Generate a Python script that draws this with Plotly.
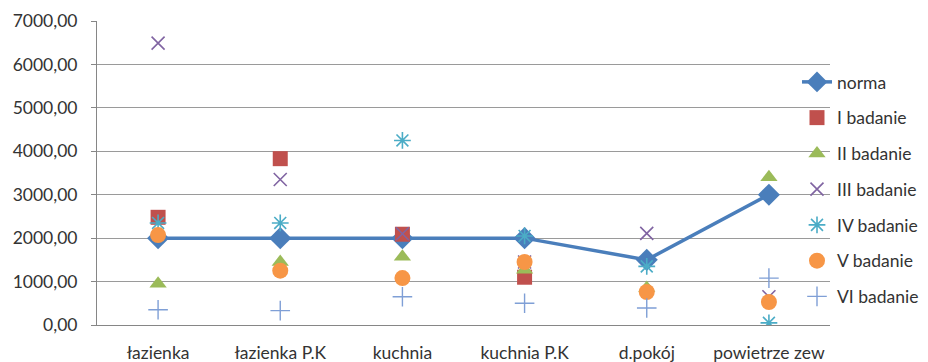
import plotly.graph_objects as go

# Measurement sites
categories = ["łazienka", "łazienka P.K", "kuchnia", "kuchnia P.K", "d.pokój", "powietrze zew"]

# Reference level and the six measurement rounds
norma = [2000, 2000, 2000, 2000, 1500, 3000]
badanie_1 = [2480, 3830, 2090, 1100, None, None]
badanie_2 = [950, 1450, 1570, 1270, 850, 3400]
badanie_3 = [6490, 3350, 2100, 1450, 2110, 650]
badanie_4 = [2350, 2350, 4250, 2050, 1350, 50]
badanie_5 = [2070, 1250, 1080, 1450, 760, 530]
badanie_6 = [350, 330, 650, 500, 390, 1080]

series_names = ["I badanie", "II badanie", "III badanie", "IV badanie", "V badanie", "VI badanie"]
series_values = [badanie_1, badanie_2, badanie_3, badanie_4, badanie_5, badanie_6]

styles = [
    dict(symbol="square", color="#C0504D", size=15, line=dict(width=0)),
    dict(symbol="triangle-up", color="#9BBB59", size=15, line=dict(width=0)),
    dict(symbol="x-thin-open", color="#8064A2", size=13, line=dict(width=1.6, color="#8064A2")),
    dict(symbol="asterisk-open", color="#4BACC6", size=14, line=dict(width=1.6, color="#4BACC6")),
    dict(symbol="circle", color="#F79646", size=16, line=dict(width=0)),
    dict(symbol="cross-thin-open", color="#7F9FD6", size=14, line=dict(width=1.4, color="#7F9FD6")),
]

fig = go.Figure()

fig.add_trace(go.Scatter(
    x=categories, y=norma, name="norma", mode="lines+markers",
    line=dict(color="#4A7EBB", width=3.5),
    marker=dict(symbol="diamond", size=17, color="#4A7EBB"),
    legendgroup="g0",
))

for i, (name, vals, st) in enumerate(zip(series_names, series_values, styles)):
    fig.add_trace(go.Scatter(
        x=categories, y=vals, name=name, mode="markers",
        marker=st, legendgroup=f"g{i+1}",
    ))

font_family = "Lato, 'Open Sans', sans-serif"
text_color = "#333333"

fig.update_layout(
    width=928, height=362,
    margin=dict(l=97, r=98, t=21, b=37, autoexpand=False),
    paper_bgcolor="white", plot_bgcolor="white",
    font=dict(family=font_family, size=17.5, color=text_color),
    separators=",.",
    showlegend=True,
    legend=dict(
        x=(797 - 97) / (928 - 97 - 98), y=(325 - 64) / (325 - 21),
        yanchor="top",
        traceorder="grouped", tracegroupgap=10,
        font=dict(size=17.5, color=text_color),
        bgcolor="rgba(0,0,0,0)",
        itemsizing="trace",
    ),
)

fig.update_xaxes(
    type="category", range=[-0.5, 5.5], automargin=False,
    showgrid=False, showline=True, linecolor="#868686", linewidth=1,
    ticks="", ticklabelstandoff=12,
    tickfont=dict(size=17.5, color=text_color),
)
fig.update_yaxes(
    range=[0, 7000], dtick=1000, tickformat=".2f", automargin=False,
    showgrid=True, gridcolor="#9A9A9A", gridwidth=1,
    showline=True, linecolor="#868686", linewidth=1,
    ticks="outside", ticklen=5, tickcolor="#868686",
    ticklabelstandoff=10,
    tickfont=dict(size=17.5, color=text_color),
    zeroline=False,
)

fig.write_html("out.html")
